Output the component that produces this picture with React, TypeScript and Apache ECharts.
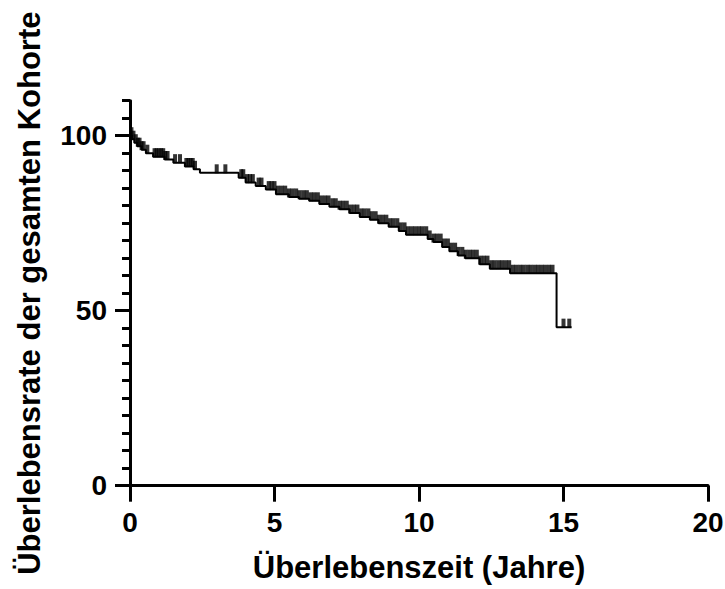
import React, { useEffect, useRef } from "react";
import * as echarts from "echarts";

// Kaplan-Meier step curve (time in years, survival in %)
const stepTimes = [
  0, 0.08, 0.15, 0.25, 0.4, 0.55, 0.8, 1.2, 1.5, 1.9, 2.2, 2.42, 3.76, 4.0,
  4.35, 4.7, 5.05, 5.5, 5.85, 6.2, 6.55, 6.9, 7.25, 7.6, 7.95, 8.3, 8.6, 8.95,
  9.3, 9.55, 10.3, 10.5, 10.8, 11.05, 11.35, 11.6, 12.1, 12.45, 13.15, 14.76,
  15.28,
];
const stepSurv = [
  100, 99, 98, 97, 96, 95, 94, 93.2, 92.3, 91.2, 90.4, 89.4, 88.0, 86.6,
  85.6, 84.6, 83.3, 82.5, 82.0, 81.4, 80.5, 79.7, 79.0, 77.9, 76.8, 76.0, 75.0,
  74.0, 72.8, 71.7, 70.5, 69.6, 68.2, 67.0, 65.8, 65.0, 63.3, 62.0, 60.7, 45.3,
  45.3,
];

// censored observations (tick marks)
const censorTimes = [
  0.05, 0.12, 0.2, 0.27, 0.33, 0.4, 0.47, 0.6, 0.85, 0.92, 1.0, 1.08, 1.15,
  1.22, 1.3, 1.56, 1.73, 1.95, 2.02, 2.1, 2.17, 2.25, 3.0, 3.3, 3.85, 3.92,
  4.05, 4.15, 4.25, 4.45, 4.55, 4.8, 4.9, 5.0, 5.12, 5.25, 5.37, 5.5, 5.62,
  5.75, 5.87, 6.0, 6.12, 6.25, 6.37, 6.5, 6.62, 6.75, 6.87, 7.0, 7.12, 7.25,
  7.37, 7.5, 7.62, 7.75, 7.87, 8.0, 8.12, 8.25, 8.37, 8.5, 8.62, 8.75, 8.87,
  9.0, 9.12, 9.25, 9.37, 9.5, 9.62, 9.75, 9.87, 10.0, 10.12, 10.25, 10.37,
  10.5, 10.62, 10.75, 10.87, 11.0, 11.12, 11.25, 11.37, 11.5, 11.62, 11.75,
  11.87, 12.0, 12.12, 12.25, 12.37, 12.5, 12.62, 12.75, 12.87, 13.0, 13.12,
  13.25, 13.37, 13.5, 13.62, 13.75, 13.87, 14.0, 14.12, 14.25, 14.37, 14.5,
  14.62, 15.0, 15.2,
];

const xTicks = [0, 5, 10, 15, 20];
const yMajorTicks = [0, 50, 100];
const yMinorTicks = [
  0, 5, 10, 15, 20, 25, 30, 35, 40, 45, 50, 55, 60, 65, 70, 75, 80, 85, 90, 95,
  100, 105, 110,
];

const xTitle = "Überlebenszeit (Jahre)";
const yTitle = "Überlebensrate der gesamten Kohorte";

function survAt(t: number): number {
  let v = stepSurv[0];
  for (let i = 0; i < stepTimes.length; i++) {
    if (stepTimes[i] <= t) v = stepSurv[i];
  }
  return v;
}

const FONT = "'Liberation Sans', Arial, Helvetica, sans-serif";

export default function App() {
  const ref = useRef<HTMLDivElement>(null);
  useEffect(() => {
    if (!ref.current) return;
    const chart = echarts.init(ref.current, undefined, { renderer: "svg" });
    const lineData = stepTimes.map((t, i) => [t, stepSurv[i]]);
    const censorData = censorTimes.map((t) => [t, survAt(t)]);
    chart.setOption({
      animation: false,
      backgroundColor: "#ffffff",
      grid: {
        left: 130,
        right: 17,
        top: 100.7,
        bottom: 103.3,
        containLabel: false,
        outerBoundsMode: "none",
      },
      xAxis: {
        type: "value",
        min: 0,
        max: 20,
        interval: 5,
        name: xTitle,
        nameLocation: "middle",
        nameGap: 66,
        nameTextStyle: {
          fontFamily: FONT,
          fontWeight: "bold",
          fontSize: 31,
          color: "#000",
        },
        axisLine: { show: true, onZero: false, lineStyle: { color: "#000", width: 3 } },
        axisTick: {
          show: true,
          customValues: xTicks,
          length: 16,
          lineStyle: { color: "#000", width: 3 },
        },
        axisLabel: {
          customValues: xTicks,
          margin: 23,
          fontFamily: FONT,
          fontWeight: "bold",
          fontSize: 28,
          color: "#000",
        },
        splitLine: { show: false },
      },
      yAxis: [
        {
          type: "value",
          min: 0,
          max: 110,
          interval: 50,
          position: "left",
          name: yTitle,
          nameLocation: "middle",
          nameRotate: 90,
          nameGap: 85,
          nameTextStyle: {
            fontFamily: FONT,
            fontWeight: "bold",
            fontSize: 31,
            color: "#000",
          },
          axisLine: { show: true, onZero: false, lineStyle: { color: "#000", width: 3 } },
          axisTick: {
            show: true,
            customValues: yMajorTicks,
            length: 15,
            lineStyle: { color: "#000", width: 3 },
          },
          axisLabel: {
            customValues: yMajorTicks,
            margin: 23,
            fontFamily: FONT,
            fontWeight: "bold",
            fontSize: 28,
            color: "#000",
          },
          splitLine: { show: false },
        },
        {
          type: "value",
          min: 0,
          max: 110,
          interval: 5,
          position: "left",
          offset: 0,
          axisLine: { show: false },
          axisTick: {
            show: true,
            customValues: yMinorTicks,
            length: 8,
            lineStyle: { color: "#000", width: 3 },
          },
          axisLabel: { show: false },
          splitLine: { show: false },
        },
      ],
      series: [
        {
          type: "line",
          step: "end",
          data: lineData,
          showSymbol: false,
          symbol: "none",
          lineStyle: { color: "#000", width: 2 },
          z: 3,
        },
        {
          type: "scatter",
          data: censorData,
          symbol: "rect",
          symbolSize: [4, 9],
          symbolOffset: [0, -4],
          itemStyle: { color: "#000" },
          z: 4,
        },
      ],
    });
    return () => chart.dispose();
  }, []);
  return (
    <div
      ref={ref}
      style={{ position: "fixed", left: 0, top: 0, width: 725, height: 589, background: "#fff" }}
    />
  );
}
